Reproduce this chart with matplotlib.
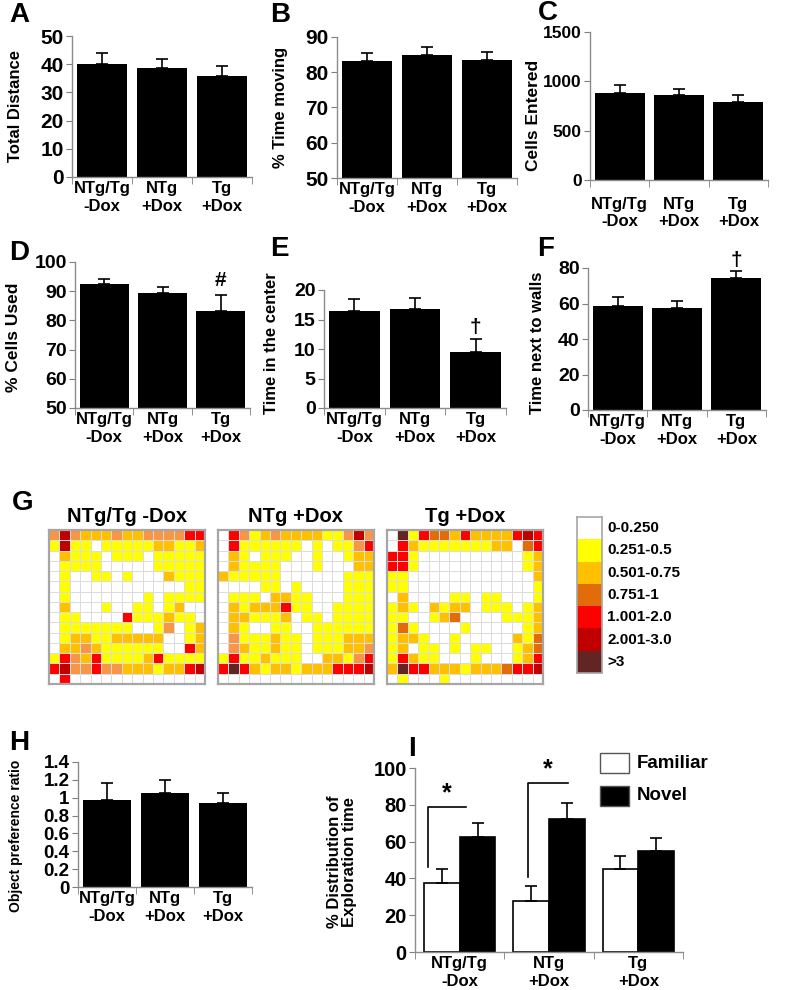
import numpy as np
import matplotlib
matplotlib.use('Agg')
import matplotlib.pyplot as plt
from matplotlib.colors import ListedColormap, BoundaryNorm
from matplotlib.patches import Rectangle

plt.rcParams['font.family'] = ['Liberation Sans', 'DejaVu Sans']
plt.rcParams['font.weight'] = 'bold'

groups = ['NTg/Tg\n-Dox', 'NTg\n+Dox', 'Tg\n+Dox']

# A-F, H: means and SEM
total_distance = [40.0, 38.8, 35.8]
total_distance_err = [3.8, 3.2, 3.4]
time_moving = [83.3, 85.0, 83.5]
time_moving_err = [2.3, 2.3, 2.3]
cells_entered = [880, 860, 790]
cells_entered_err = [80, 65, 70]
cells_used = [92.6, 89.4, 83.2]
cells_used_err = [1.6, 2.0, 5.6]
time_center = [16.5, 16.7, 9.5]
time_center_err = [2.0, 2.0, 2.2]
time_walls = [58.5, 57.5, 74.5]
time_walls_err = [5.0, 3.8, 4.0]
pref_ratio = [0.97, 1.05, 0.945]
pref_ratio_err = [0.19, 0.145, 0.105]

# I: familiar vs novel
familiar = [37.5, 27.5, 45.0]
familiar_err = [7.5, 8.5, 7.0]
novel = [62.5, 72.5, 55.0]
novel_err = [7.5, 8.5, 7.0]

# G: occupancy maps, category codes
# 0 white, 1 yellow, 2 gold, 3 light orange, 4 orange, 5 red, 6 dark red, 7 brown
map_ntg_tg_nodox = [
    [3, 6, 3, 2, 2, 2, 3, 2, 2, 3, 3, 3, 3, 5, 5],
    [1, 6, 1, 1, 0, 1, 1, 1, 1, 1, 2, 2, 1, 1, 2],
    [0, 2, 1, 1, 1, 0, 1, 1, 1, 0, 1, 1, 1, 1, 1],
    [0, 1, 1, 1, 1, 0, 0, 0, 0, 0, 1, 1, 1, 1, 1],
    [0, 1, 0, 0, 1, 1, 0, 1, 0, 0, 0, 2, 1, 1, 1],
    [0, 1, 0, 0, 0, 0, 0, 0, 0, 0, 0, 0, 0, 1, 1],
    [0, 1, 0, 0, 0, 0, 0, 0, 0, 1, 0, 1, 1, 1, 1],
    [0, 2, 0, 0, 0, 1, 0, 0, 1, 1, 0, 1, 2, 0, 0],
    [0, 1, 1, 0, 0, 0, 0, 5, 1, 1, 1, 2, 1, 1, 0],
    [0, 1, 1, 1, 1, 1, 1, 1, 0, 0, 1, 3, 0, 1, 2],
    [0, 1, 2, 2, 1, 1, 2, 2, 2, 2, 2, 0, 0, 1, 2],
    [0, 2, 2, 3, 2, 1, 1, 1, 1, 1, 1, 0, 0, 5, 2],
    [1, 5, 3, 2, 5, 1, 1, 1, 1, 2, 5, 1, 1, 1, 1],
    [5, 6, 3, 3, 5, 3, 3, 2, 2, 2, 1, 2, 2, 5, 6],
    [0, 5, 0, 0, 0, 0, 0, 0, 0, 0, 0, 0, 0, 0, 0],
]
map_ntg_dox = [
    [0, 5, 3, 1, 2, 3, 2, 2, 2, 2, 1, 1, 3, 6, 3],
    [0, 5, 1, 1, 1, 1, 1, 1, 0, 1, 0, 1, 1, 3, 5],
    [0, 2, 1, 0, 1, 1, 1, 0, 0, 1, 0, 0, 1, 2, 2],
    [0, 2, 1, 1, 1, 1, 0, 0, 0, 1, 0, 0, 0, 2, 2],
    [2, 1, 1, 1, 1, 1, 0, 0, 0, 0, 0, 0, 1, 1, 1],
    [0, 0, 0, 0, 1, 1, 0, 1, 0, 0, 0, 0, 1, 1, 1],
    [0, 1, 1, 1, 0, 2, 2, 1, 1, 0, 0, 0, 1, 1, 1],
    [0, 2, 1, 2, 2, 2, 5, 1, 1, 0, 0, 1, 1, 1, 1],
    [0, 2, 2, 1, 1, 1, 2, 0, 1, 1, 0, 1, 1, 1, 1],
    [0, 2, 1, 0, 0, 1, 1, 0, 0, 1, 1, 1, 1, 1, 1],
    [0, 3, 1, 1, 1, 2, 1, 1, 0, 1, 1, 1, 2, 2, 2],
    [0, 3, 2, 1, 1, 2, 1, 1, 0, 1, 1, 1, 2, 2, 3],
    [1, 5, 1, 1, 2, 1, 1, 1, 0, 0, 2, 2, 1, 3, 5],
    [5, 7, 5, 2, 1, 2, 2, 1, 2, 2, 2, 5, 5, 5, 6],
    [0, 0, 0, 0, 0, 0, 0, 0, 0, 0, 0, 0, 0, 0, 0],
]
map_tg_dox = [
    [0, 7, 1, 5, 4, 4, 2, 5, 2, 2, 2, 2, 5, 6, 5],
    [0, 5, 2, 1, 1, 1, 1, 1, 1, 1, 2, 2, 0, 4, 5],
    [5, 5, 1, 0, 0, 0, 0, 0, 0, 0, 0, 0, 0, 1, 2],
    [5, 5, 1, 0, 0, 0, 0, 0, 0, 0, 0, 0, 0, 1, 2],
    [1, 1, 0, 0, 0, 0, 0, 0, 0, 0, 0, 0, 0, 0, 2],
    [1, 1, 0, 0, 0, 0, 0, 0, 0, 0, 0, 0, 0, 0, 1],
    [0, 2, 0, 0, 0, 0, 1, 1, 0, 1, 1, 0, 0, 0, 1],
    [1, 2, 1, 0, 2, 1, 2, 2, 0, 1, 1, 1, 0, 1, 2],
    [1, 1, 0, 0, 1, 2, 4, 0, 0, 0, 0, 1, 1, 1, 2],
    [1, 4, 1, 0, 0, 0, 0, 1, 0, 0, 0, 0, 0, 1, 2],
    [1, 2, 2, 1, 0, 0, 1, 0, 0, 0, 0, 0, 2, 1, 4],
    [1, 2, 0, 1, 1, 0, 1, 0, 1, 1, 0, 0, 1, 2, 4],
    [1, 5, 2, 1, 1, 0, 0, 0, 1, 0, 0, 0, 1, 2, 5],
    [2, 7, 5, 5, 2, 2, 2, 1, 2, 2, 2, 4, 5, 5, 6],
    [0, 1, 0, 0, 0, 1, 0, 0, 0, 0, 0, 0, 0, 0, 0],
]
map_titles = ['NTg/Tg -Dox', 'NTg +Dox', 'Tg +Dox']
map_colors = ['#FFFFFF', '#FFFF00', '#FFC000', '#F79646', '#E26B0A',
              '#FF0000', '#C00000', '#632523']
legend_codes = [0, 1, 2, 4, 5, 6, 7]
legend_labels = ['0-0.250', '0.251-0.5', '0.501-0.75', '0.751-1',
                 '1.001-2.0', '2.001-3.0', '>3']

W, H = 800, 990
fig = plt.figure(figsize=(8, 9.9), dpi=100)


def px_axes(l, t, r, b):
    return fig.add_axes([l / W, 1 - b / H, (r - l) / W, (b - t) / H])


def ftext(x, y, s, **kw):
    fig.text(x / W, 1 - y / H, s, **kw)


def style_bar_axes(ax, ylim, step, fmt=None, tsize=14, xsize=12, xpad=3):
    ax.set_xlim(-0.5, 2.5)
    ticks = np.arange(ylim[0], ylim[1] + step / 2, step)
    ax.set_yticks(ticks)
    if fmt:
        ax.set_yticklabels([fmt(t) for t in ticks])
    ax.set_ylim(*ylim)
    ax.set_xticks([0, 1, 2])
    ax.set_xticklabels(groups, fontsize=xsize, fontweight='bold', linespacing=1.2)
    ax.set_xticks([-0.5, 0.5, 1.5, 2.5], minor=True)
    ax.tick_params(axis='x', which='major', length=0, pad=xpad)
    ax.tick_params(axis='x', which='minor', length=5, color='#7f7f7f', direction='out')
    ax.tick_params(axis='y', length=4, color='#7f7f7f', labelsize=tsize, pad=2)
    for lab in ax.get_yticklabels():
        lab.set_fontweight('bold')
    for s in ['top', 'right']:
        ax.spines[s].set_visible(False)
    for s in ['left', 'bottom']:
        ax.spines[s].set_color('#8c8c8c')
        ax.spines[s].set_linewidth(1.0)


def bar_panel(box, vals, errs, ylim, step, fmt=None, **kw):
    ax = px_axes(*box)
    x = np.arange(3)
    ax.bar(x, vals, width=0.84, color='black', zorder=2)
    ax.errorbar(x, vals, yerr=[np.zeros(3), errs], fmt='none', ecolor='black',
                elinewidth=1.2, capsize=4, capthick=1.2, zorder=3)
    style_bar_axes(ax, ylim, step, fmt, **kw)
    return ax


# row 1
bar_panel((72, 36, 252, 177), total_distance, total_distance_err, (0, 50), 10, tsize=15)
bar_panel((337, 37, 517, 178), time_moving, time_moving_err, (50, 90), 10, tsize=15)
bar_panel((590, 32, 768, 180), cells_entered, cells_entered_err, (0, 1500), 500,
          tsize=12.5, xpad=12)

# row 2
axd = bar_panel((75, 262, 250, 408), cells_used, cells_used_err, (50, 100), 10, tsize=14)
axd.text(2, cells_used[2] + cells_used_err[2] + 1.5, '#', ha='center', va='bottom',
         fontsize=15, fontweight='bold')
axe = bar_panel((324, 290, 506, 408), time_center, time_center_err, (0, 20), 5, tsize=14)
axe.text(2, time_center[2] + time_center_err[2] + 0.3, '\u2020', ha='center', va='bottom',
         fontsize=15, fontweight='bold')
axf = bar_panel((588, 268, 766, 410), time_walls, time_walls_err, (0, 80), 20, tsize=14)
axf.text(2, time_walls[2] + time_walls_err[2] + 0.5, '\u2020', ha='center', va='bottom',
         fontsize=15, fontweight='bold', clip_on=False)

# H
bar_panel((78, 762, 252, 887), pref_ratio, pref_ratio_err, (0, 1.4), 0.2,
          fmt=lambda t: '0' if abs(t) < 1e-9 else ('1' if abs(t - 1) < 1e-9 else f'{t:.1f}'),
          tsize=13.5)

# I
axi = px_axes(415, 768, 683, 952)
x = np.arange(3)
bw = 0.4
axi.bar(x - bw / 2, familiar, width=bw, color='white', edgecolor='black', linewidth=1.2, zorder=2)
axi.bar(x + bw / 2, novel, width=bw, color='black', edgecolor='black', linewidth=1.2, zorder=2)
axi.errorbar(x - bw / 2, familiar, yerr=[np.zeros(3), familiar_err], fmt='none', ecolor='black',
             elinewidth=1.2, capsize=4, capthick=1.2, zorder=3)
axi.errorbar(x + bw / 2, novel, yerr=[np.zeros(3), novel_err], fmt='none', ecolor='black',
             elinewidth=1.2, capsize=4, capthick=1.2, zorder=3)
style_bar_axes(axi, (0, 100), 20, tsize=14.5, xpad=3)
# significance brackets
for gx, y0, y1, x1 in [(0, 46, 79, 0.07), (1, 41, 92, 1.21)]:
    xl = gx - 0.36 if gx == 0 else gx - 0.23
    axi.plot([xl, xl, x1], [y0, y1, y1], color='black', lw=1.2, clip_on=False)
    axi.text((xl + x1) / 2, y1 + 0.5, '*', ha='center', va='bottom', fontsize=18,
             fontweight='bold', clip_on=False)

# I legend
for (yt, lab, fc) in [(753, 'Familiar', 'white'), (786, 'Novel', 'black')]:
    fig.add_artist(Rectangle((600 / W, 1 - (yt + 20) / H), 29 / W, 20 / H,
                             transform=fig.transFigure, facecolor=fc,
                             edgecolor='#555555', linewidth=1.0))
    ftext(637, yt + 10, lab, ha='left', va='center', fontsize=13.5, fontweight='bold')

# G heatmaps
cmap = ListedColormap(map_colors)
norm = BoundaryNorm(np.arange(-0.5, 8.5, 1), cmap.N)
for (l, r), grid, title in zip([(49, 205), (218, 374), (387, 543)],
                               [map_ntg_tg_nodox, map_ntg_dox, map_tg_dox], map_titles):
    ax = px_axes(l, 530, r, 684)
    arr = np.array(grid)
    ax.pcolormesh(arr, cmap=cmap, norm=norm, edgecolors='#dcdcdc', linewidth=0.4)
    ax.set_xlim(0, arr.shape[1])
    ax.set_ylim(arr.shape[0], 0)
    ax.set_xticks([])
    ax.set_yticks([])
    for s in ax.spines.values():
        s.set_color('#a6a6a6')
        s.set_linewidth(1.6)
    ftext((l + r) / 2, 517, title, ha='center', va='center', fontsize=14.5, fontweight='bold')

axl = px_axes(577, 517, 602, 673)
codes = np.array(legend_codes).reshape(-1, 1)
axl.pcolormesh(codes, cmap=cmap, norm=norm)
axl.set_ylim(len(legend_codes), 0)
axl.set_xticks([])
axl.set_yticks([])
for s in axl.spines.values():
    s.set_color('#a6a6a6')
    s.set_linewidth(1.2)
row_h = (673 - 517) / len(legend_labels)
for i, lab in enumerate(legend_labels):
    ftext(607, 517 + row_h * (i + 0.5), lab, ha='left', va='center', fontsize=11,
          fontweight='bold')

# y labels
ylabels = [
    (16, 106, 'Total Distance', 12),
    (280, 107, '% Time moving', 12),
    (533, 115, 'Cells Entered', 12.5),
    (14, 337, '% Cells Used', 12.5),
    (271, 343, 'Time in the center', 12),
    (538, 343, 'Time next to walls', 12),
    (16, 836, 'Object preference ratio', 10),
    (342, 862, '% Distribution of\nExploration time', 12),
]
for xx, yy, s, fs in ylabels:
    ftext(xx, yy, s, rotation=90, ha='center', va='center', fontsize=fs,
          fontweight='bold', linespacing=0.95)

# panel letters
letters = [('A', 9, 2), ('B', 270, 2), ('C', 538, 0), ('D', 9, 240), ('E', 270, 236),
           ('F', 537, 236), ('G', 12, 490), ('H', 9, 730), ('I', 408, 736)]
for s, xx, yy in letters:
    ftext(xx, yy, s, ha='left', va='top', fontsize=20, fontweight='bold')

fig.savefig('out.png', dpi=100)
